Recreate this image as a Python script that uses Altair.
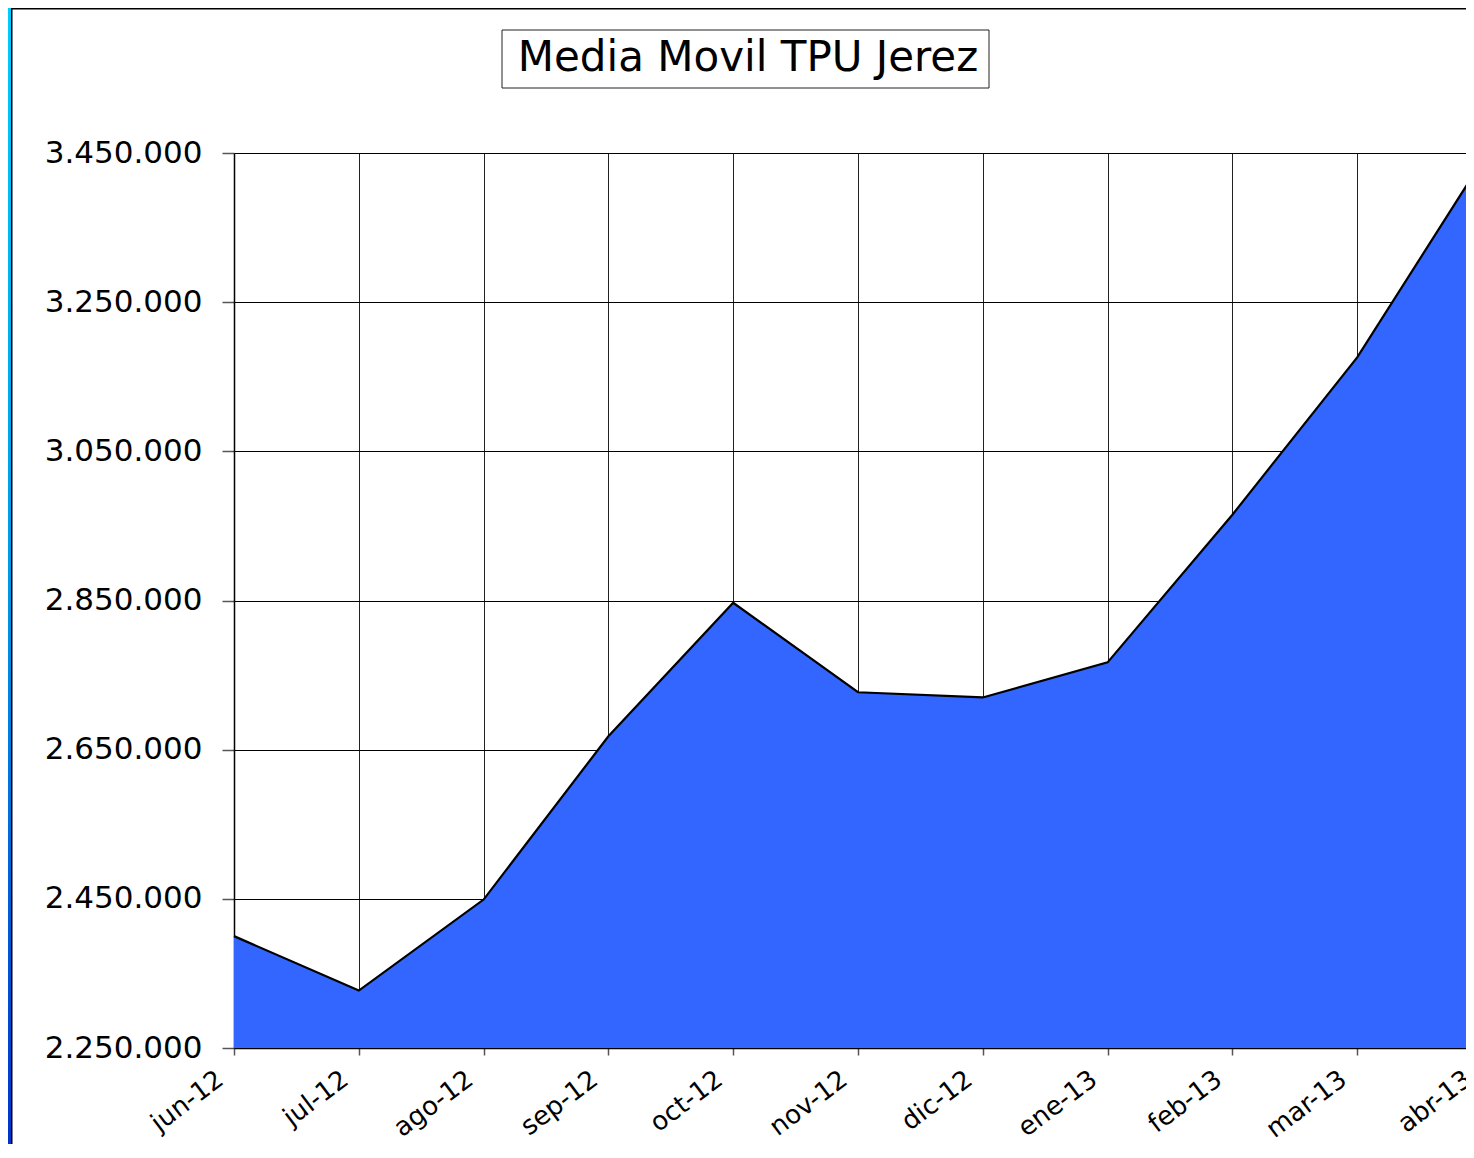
import altair as alt
import pandas as pd

months = ["jun-12", "jul-12", "ago-12", "sep-12", "oct-12", "nov-12",
          "dic-12", "ene-13", "feb-13", "mar-13", "abr-13"]
values = [2400000, 2327000, 2449000, 2668000, 2847000, 2727000,
          2720000, 2767000, 2965000, 3176000, 3439000]
y_ticks = [2250000, 2450000, 2650000, 2850000, 3050000, 3250000, 3450000]
title_text = "Media Movil TPU Jerez"

df = pd.DataFrame({"mes": months, "valor": values})

W, H = 1248, 895
PAD_L, PAD_T, PAD_B, PAD_R = 226, 145, 96, -16
FONT = "DejaVu Sans"

x_enc = alt.X(
    "mes:N", sort=months, title=None,
    scale=alt.Scale(type="point", padding=0),
    axis=alt.Axis(
        labelAngle=-37, labelAlign="right", labelBaseline="middle",
        labelFont=FONT, labelFontSize=26, labelColor="black",
        labelPadding=21, labelOffset=-14, labelOverlap=False,
        tickColor="#555555", tickSize=7, tickWidth=1.5,
        domainColor="black", domainWidth=1.5,
        grid=True, gridColor="#222222", gridWidth=1, gridOpacity=1,
    ),
)
y_enc = alt.Y(
    "valor:Q", title=None,
    scale=alt.Scale(domain=[y_ticks[0], y_ticks[-1]], zero=False, nice=False),
    axis=alt.Axis(
        values=y_ticks,
        labelExpr="replace(format(datum.value, ','), regexp(',', 'g'), '.')",
        labelFont=FONT, labelFontSize=31, labelColor="black",
        labelPadding=20, labelOverlap=False,
        tickColor="#555555", tickSize=12, tickWidth=1.5,
        domainColor="black", domainWidth=1.5,
        grid=True, gridColor="black", gridWidth=1, gridOpacity=1,
    ),
)

base = alt.Chart(df)
area = base.mark_area(color="#3366FF", opacity=1).encode(
    x=x_enc, y=y_enc, y2=alt.datum(y_ticks[0])
)
line = base.mark_line(color="black", strokeWidth=2.2).encode(x=x_enc, y=y_enc)

one = pd.DataFrame({"t": [title_text]})

gradient = alt.LinearGradient(
    gradient="linear",
    stops=[
        alt.GradientStop(color="#00CCFF", offset=0),
        alt.GradientStop(color="#0099E6", offset=0.5),
        alt.GradientStop(color="#0033CC", offset=1),
    ],
    x1=0, x2=0, y1=0, y2=1,
)
strip = alt.Chart(one).mark_rect(fill=gradient, strokeWidth=0).encode(
    x=alt.value(-PAD_L), x2=alt.value(-PAD_L + 3),
    y=alt.value(-PAD_T), y2=alt.value(H + PAD_B),
)
frame_v = alt.Chart(one).mark_rule(color="black", strokeWidth=1.5).encode(
    x=alt.value(-PAD_L + 3.75), y=alt.value(-PAD_T), y2=alt.value(H + PAD_B)
)
frame_h = alt.Chart(one).mark_rule(color="black", strokeWidth=1.5).encode(
    x=alt.value(-PAD_L + 3), x2=alt.value(W), y=alt.value(-PAD_T + 0.75)
)
box = alt.Chart(one).mark_rect(fill="white", stroke="#222222", strokeWidth=1).encode(
    x=alt.value(268), x2=alt.value(755), y=alt.value(-123), y2=alt.value(-65)
)
title = alt.Chart(one).mark_text(
    font=FONT, fontSize=42, color="black", align="center", baseline="middle"
).encode(text="t:N", x=alt.value(514), y=alt.value(-95))

chart = alt.layer(strip, frame_v, frame_h, box, title, area, line).properties(
    width=W, height=H,
    padding={"left": PAD_L, "top": PAD_T, "right": PAD_R, "bottom": PAD_B},
    autosize=alt.AutoSizeParams(type="none"),
    background="white",
).configure_view(stroke=None)

chart.save("out.html", embed_options={"renderer": "svg", "actions": False})
